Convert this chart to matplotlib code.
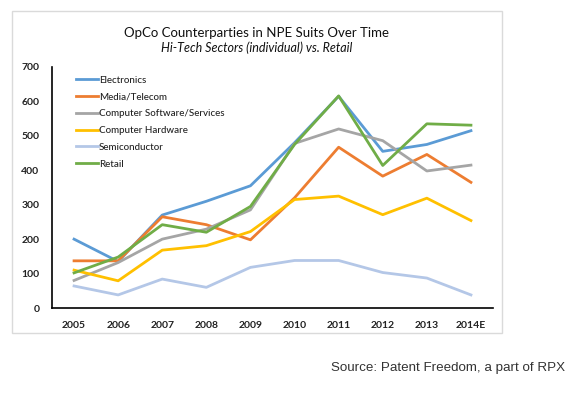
import matplotlib
matplotlib.use("Agg")
import matplotlib.pyplot as plt
from matplotlib.patches import Rectangle

years = ["2005", "2006", "2007", "2008", "2009", "2010", "2011", "2012", "2013", "2014E"]
electronics = [200, 135, 270, 310, 355, 480, 615, 455, 475, 515]
media_telecom = [137, 137, 265, 242, 198, 320, 467, 383, 446, 365]
software = [80, 132, 200, 229, 285, 478, 520, 486, 398, 415]
hardware = [110, 79, 168, 181, 222, 315, 325, 271, 319, 254]
semiconductor = [64, 38, 84, 60, 118, 138, 138, 103, 87, 38]
retail = [102, 148, 242, 220, 295, 475, 616, 414, 535, 531]

series = [
    ("Electronics", electronics, "#5B9BD5"),
    ("Media/Telecom", media_telecom, "#ED7D31"),
    ("Computer Software/Services", software, "#A5A5A5"),
    ("Computer Hardware", hardware, "#FFC000"),
    ("Semiconductor", semiconductor, "#B4C7E7"),
    ("Retail", retail, "#70AD47"),
]

plt.rcParams["font.family"] = ["Lato", "DejaVu Sans"]

fig = plt.figure(figsize=(5.69, 3.98), dpi=100)
W, H = 569, 398

# light frame around the chart area
fig.patches.append(Rectangle((12 / W, 1 - 333 / H), 490 / W, 322 / H,
                             transform=fig.transFigure, fill=False,
                             edgecolor="#DADADA", linewidth=1.0))

ax = fig.add_axes([52 / W, 1 - 308 / H, 441 / W, 241 / H])
x = range(len(years))
for name, vals, color in series:
    ax.plot(x, vals, color=color, linewidth=2.0, label=name)

ax.set_xlim(-0.5, len(years) - 0.5)
ax.set_ylim(0, 700)
ax.set_xticks(list(x))
ax.set_xticklabels(years)
ax.set_yticks(range(0, 701, 100))
ax.tick_params(axis="both", length=0, labelsize=7.5, pad=9)
for lbl in ax.get_xticklabels() + ax.get_yticklabels():
    lbl.set_fontweight("bold")
    lbl.set_color("#222222")
ax.spines["top"].set_visible(False)
ax.spines["right"].set_visible(False)
ax.spines["left"].set_linewidth(1.2)
ax.spines["bottom"].set_linewidth(1.2)

leg = ax.legend(loc="upper left", bbox_to_anchor=(0.045, 0.98), frameon=False,
                prop={"size": 7, "weight": "medium"}, handlelength=2.3,
                handletextpad=0.1, labelspacing=0.8, borderaxespad=0)
for t in leg.get_texts():
    t.set_color("#222222")

fig.text(257 / W, 1 - 33 / H, "OpCo Counterparties in NPE Suits Over Time",
         ha="center", va="center", fontsize=9.5, color="#111111")
fig.text(257 / W, 1 - 48 / H, "Hi-Tech Sectors (individual) vs. Retail",
         ha="center", va="center", fontsize=9, style="italic", color="#111111")
fig.text(565 / W, 1 - 368 / H, "Source: Patent Freedom, a part of RPX",
         ha="right", va="center", fontsize=9.6, color="#333333",
         family=["Liberation Sans", "DejaVu Sans"])

fig.savefig("out.png", dpi=100)
